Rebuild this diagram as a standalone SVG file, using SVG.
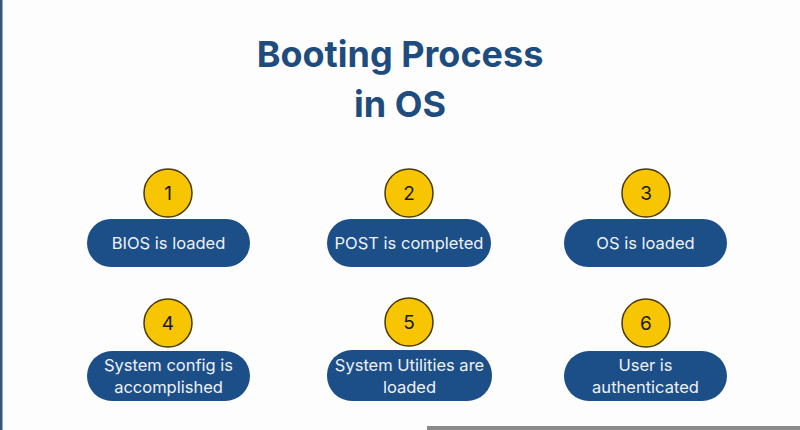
<svg xmlns="http://www.w3.org/2000/svg" width="800" height="430" viewBox="0 0 800 430">
<style>
.title{font-family:Inter,"Liberation Sans",sans-serif;font-weight:700;font-size:36px;fill:#1f4c7e;text-anchor:middle}
.pill{fill:#1c4e88}
.ptxt{font-family:Inter,"Liberation Sans",sans-serif;font-size:16.5px;fill:#eef2f8;text-anchor:middle}
.circ{fill:#f8c503;stroke:#4a3a05;stroke-width:1.5}
.num{font-family:Inter,"Liberation Sans",sans-serif;font-size:19px;fill:#1a1a1a;text-anchor:middle}
</style>
<rect width="800" height="430" fill="#fdfdfd"/>
<rect x="0" y="0" width="2.5" height="430" fill="#35577f"/>
<rect x="427" y="426" width="373" height="4" fill="#8a8a8a"/>
<text class="title" x="400" y="67">Booting Process</text>
<text class="title" x="400" y="117">in OS</text>
<g id="connectors"></g>
<g id="node1">
<rect class="pill" x="87" y="219" width="163" height="48" rx="24"/>
<circle class="circ" cx="168" cy="193" r="24"/>
<text class="num" x="168" y="200">1</text>
<text class="ptxt" x="168.5" y="249">BIOS is loaded</text>
</g>
<g id="node2">
<rect class="pill" x="327" y="219" width="164" height="48" rx="24"/>
<circle class="circ" cx="409" cy="193" r="24"/>
<text class="num" x="409" y="200">2</text>
<text class="ptxt" x="409" y="249">POST is completed</text>
</g>
<g id="node3">
<rect class="pill" x="564" y="219" width="163" height="48" rx="24"/>
<circle class="circ" cx="646" cy="193" r="24"/>
<text class="num" x="646" y="200">3</text>
<text class="ptxt" x="645.5" y="249">OS is loaded</text>
</g>
<g id="node4">
<rect class="pill" x="87" y="351" width="163" height="50" rx="25"/>
<circle class="circ" cx="168" cy="323" r="24"/>
<text class="num" x="168" y="330">4</text>
<text class="ptxt" x="168.5" y="371">System config is</text>
<text class="ptxt" x="168.5" y="393">accomplished</text>
</g>
<g id="node5">
<rect class="pill" x="327" y="350" width="165" height="51" rx="25"/>
<circle class="circ" cx="409" cy="322" r="24"/>
<text class="num" x="409" y="329">5</text>
<text class="ptxt" x="409.5" y="371">System Utilities are</text>
<text class="ptxt" x="409.5" y="393">loaded</text>
</g>
<g id="node6">
<rect class="pill" x="564" y="351" width="163" height="50" rx="25"/>
<circle class="circ" cx="646" cy="323" r="24"/>
<text class="num" x="646" y="330">6</text>
<text class="ptxt" x="645.5" y="371">User is</text>
<text class="ptxt" x="645.5" y="393">authenticated</text>
</g>
</svg>
